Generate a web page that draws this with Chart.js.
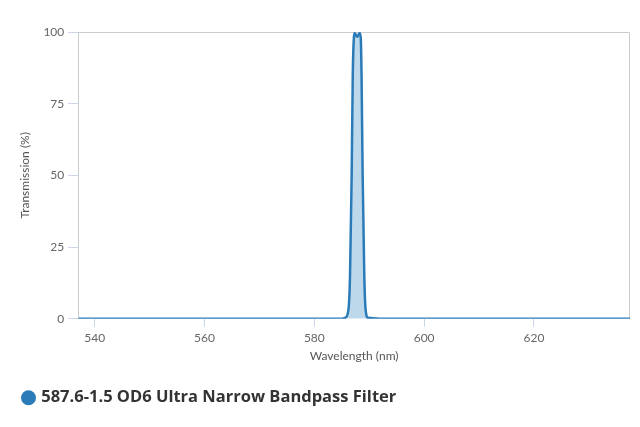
<!DOCTYPE html>
<html>
<head>
<meta charset="utf-8">
<script src="https://cdn.jsdelivr.net/npm/chart.js@4/dist/chart.umd.min.js"></script>
<style>
  html, body { margin: 0; padding: 0; background: #fff; }
  #wrap { width: 640px; height: 427px; }
</style>
</head>
<body>
<div id="wrap"><canvas id="filterChart"></canvas></div>
<script>
// Datos
const seriesName = "587.6-1.5 OD6 Ultra Narrow Bandpass Filter";
const wavelengths = [537, 580, 585, 585.6, 586.2, 586.5, 586.8, 587.0, 587.2, 587.35, 587.8, 588.25, 588.45, 588.6, 588.8, 589.1, 589.35, 589.8, 592, 600, 637.5];
const transmission = [0, 0, 0, 0.3, 3, 15, 50, 85, 98, 99.6, 98.3, 99.6, 98, 85, 50, 15, 3, 0.3, 0, 0, 0];
const xTicks = [540, 560, 580, 600, 620];
const yTicks = [0, 25, 50, 75, 100];

const points = wavelengths.map((w, i) => ({ x: w, y: transmission[i] }));

// Marco gris arriba y a la derecha
const framePlugin = {
    id: 'frame',
    beforeDatasetsDraw(chart) {
        const { ctx, chartArea: a } = chart;
        ctx.save();
        ctx.strokeStyle = '#cccccc';
        ctx.lineWidth = 1;
        ctx.beginPath();
        ctx.moveTo(a.left, a.top + 0.5);
        ctx.lineTo(a.right - 0.5, a.top + 0.5);
        ctx.lineTo(a.right - 0.5, a.bottom);
        ctx.stroke();
        ctx.restore();
    }
};

const ctx = document.getElementById("filterChart").getContext("2d");
const chart = new Chart(ctx, {
    type: 'line',
    data: {
        datasets: [{
            label: seriesName,
            data: points,
            borderColor: '#2b7bb9',
            backgroundColor: 'rgba(160, 200, 225, 0.7)',
            borderWidth: 2.5,
            fill: 'origin',
            pointRadius: 0,
            cubicInterpolationMode: 'monotone'
        }]
    },
    options: {
        responsive: true,
        maintainAspectRatio: false,
        animation: false,
        layout: { padding: { left: 14, right: 10, top: 32, bottom: 11 } },
        plugins: {
            tooltip: { enabled: false },
            legend: {
                position: 'bottom',
                align: 'start',
                labels: {
                    usePointStyle: true,
                    pointStyle: 'circle',
                    boxWidth: 9,
                    boxHeight: 10.6,
                    color: '#333333',
                    padding: 10,
                    font: { family: 'Open Sans', size: 16.5, weight: 'bold' },
                    generateLabels: chart => chart.data.datasets.map((ds, i) => ({
                        text: ds.label,
                        fillStyle: ds.borderColor,
                        strokeStyle: ds.borderColor,
                        lineWidth: 0,
                        pointStyle: 'circle',
                        fontColor: '#333333',
                        datasetIndex: i
                    }))
                }
            }
        },
        scales: {
            x: {
                type: 'linear',
                min: 537,
                max: 637.5,
                afterBuildTicks: axis => { axis.ticks = xTicks.map(v => ({ value: v })); },
                grid: { drawOnChartArea: false, tickLength: 8, tickColor: '#ccd6eb', color: '#ccd6eb' },
                border: { display: false },
                ticks: { color: '#666666', padding: 4, font: { family: 'Lato', size: 12 } },
                title: {
                    display: true,
                    text: 'Wavelength (nm)',
                    color: '#555555',
                    padding: { top: 0, bottom: 16 },
                    font: { family: 'Lato', size: 12 }
                }
            },
            y: {
                min: 0,
                max: 100,
                afterBuildTicks: axis => { axis.ticks = yTicks.map(v => ({ value: v })); },
                grid: { drawOnChartArea: false, tickLength: 10, tickColor: '#ccd6eb' },
                border: { display: true, color: '#cccccc' },
                ticks: { color: '#666666', padding: 4, font: { family: 'Lato', size: 12 } },
                title: {
                    display: true,
                    text: 'Transmission (%)',
                    color: '#555555',
                    padding: { top: 4, bottom: 7 },
                    font: { family: 'Lato', size: 12 }
                }
            }
        }
    },
    plugins: [framePlugin]
});
</script>
</body>
</html>
